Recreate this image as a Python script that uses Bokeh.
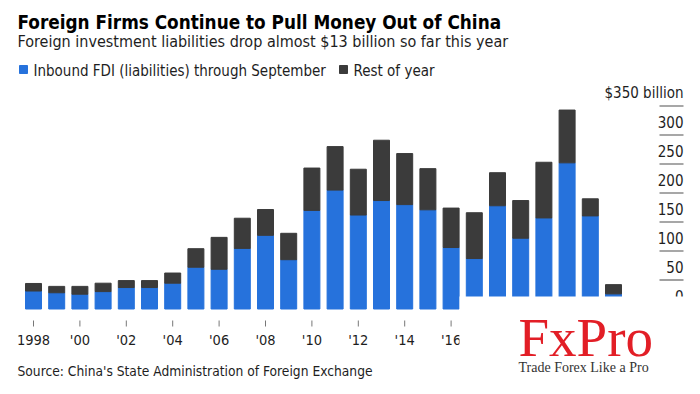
from bokeh.plotting import figure
from bokeh.models import ColumnDataSource, Range1d
from bokeh.core.properties import value
from bokeh.embed import file_html
from bokeh.resources import INLINE

# ---------------- data ----------------
years = list(range(1998, 2024))
through_sept = [31, 28, 25.5, 30, 37, 37, 44.5, 72, 68.5, 104.5, 127, 85, 170,
                205, 162, 187, 180, 171, 106, 87, 178, 122, 157, 252, 160.5, 26]
rest_of_year = [13, 11, 13.5, 14.5, 12, 12, 17.5, 32, 55, 52, 44.5, 45.5, 73,
                75, 79, 104, 88, 71, 68, 79, 57, 65, 96, 91, 29.5, 16]
x_tick_years = [1998, 2000, 2002, 2004, 2006, 2008, 2010, 2012, 2014, 2016, 2018, 2020, 2022]
x_tick_labels = ["1998", "'00", "'02", "'04", "'06", "'08", "'10", "'12", "'14", "'16", "'18", "'20", "'22"]
y_ticks = [0, 50, 100, 150, 200, 250, 300, 350]
y_tick_labels = ["0", "50", "100", "150", "200", "250", "300", "$350 billion"]

title = "Foreign Firms Continue to Pull Money Out of China"
subtitle = "Foreign investment liabilities drop almost $13 billion so far this year"
legend_labels = ["Inbound FDI (liabilities) through September", "Rest of year"]
source_text = "Source: China's State Administration of Foreign Exchange"

BLUE = "#2672dc"
GRAY = "#3b3b3b"
TEXT = "#1e1e1e"
FONT = "DejaVu Sans Condensed"

# ---------------- page geometry (page pixels) ----------------
W, H = 700, 394
X0_PAGE, PX_PER_YEAR = 33.0, 23.2
Y0_PAGE, PX_PER_BN = 308.5, 0.58
BASE_SHIFT = 0.3  # em: rendered baseline sits this far below the anchor


def dx(px):
    return 1998 + (px - X0_PAGE) / PX_PER_YEAR


def dy(py):
    return (Y0_PAGE - py) / PX_PER_BN


def ty(baseline, fs):
    return dy(baseline - BASE_SHIFT * fs)


p = figure(width=W, height=H,
           x_range=Range1d(dx(0), dx(W)),
           y_range=Range1d(dy(H), dy(0)),
           output_backend="svg", toolbar_location=None,
           x_axis_location=None, y_axis_location=None,
           min_border=0, outline_line_color=None,
           background_fill_color="white", border_fill_color="white")
p.grid.visible = False

src = ColumnDataSource(dict(year=years, sept=through_sept, rest=rest_of_year))
p.vbar_stack(["sept", "rest"], x="year", width=16 / PX_PER_YEAR, color=[BLUE, GRAY], source=src)

# right-hand value scale: short rules with labels sitting above them
g_x0, g_x1 = dx(659), dx(683)
p.segment(x0=[g_x0] * len(y_ticks), x1=[g_x1] * len(y_ticks), y0=y_ticks, y1=y_ticks,
          line_color="#8a8a8a", line_width=1.6)
fs_y = 15
p.text(x=[g_x1] * len(y_ticks), y=y_ticks, text=y_tick_labels, text_align="right",
       text_baseline="alphabetic", y_offset=-(8.5 + BASE_SHIFT * fs_y), text_font=value(FONT),
       text_font_size=f"{fs_y}px", text_color=TEXT)

# x ticks and labels
tick_top, tick_bot = dy(320), dy(326)
p.segment(x0=x_tick_years, x1=x_tick_years, y0=[tick_top] * len(x_tick_years),
          y1=[tick_bot] * len(x_tick_years), line_color="#777777", line_width=1)
fs_x = 14.5
p.text(x=x_tick_years, y=[ty(344.3, fs_x)] * len(x_tick_years), text=x_tick_labels,
       text_align="center", text_baseline="alphabetic", text_font=value(FONT),
       text_font_size=f"{fs_x}px", text_color=TEXT)

# white logo panel covering lower right
p.quad(left=[dx(459)], right=[dx(W + 5)], bottom=[dy(H + 5)], top=[dy(296)],
       fill_color="white", line_color=None)

# logo
p.text(x=[dx(518)], y=[ty(353, 55)], text=["FxPro"], text_font=value("Liberation Serif"),
       text_font_size="55px", text_color="#e21e26", text_baseline="alphabetic")
p.text(x=[dx(518)], y=[ty(370.7, 14)], text=["Trade Forex Like a Pro"], text_font=value("Liberation Serif"),
       text_font_size="14px", text_color="#333333", text_baseline="alphabetic")

# titles
p.text(x=[dx(17)], y=[ty(27.3, 18.8)], text=[title], text_font=value(FONT), text_font_style="bold",
       text_font_size="18.8px", text_color="#000000", text_baseline="alphabetic")
p.text(x=[dx(17)], y=[ty(46, 16)], text=[subtitle], text_font=value(FONT),
       text_font_size="16px", text_color=TEXT, text_baseline="alphabetic")

# legend
sq = 8
p.quad(left=[dx(19), dx(339)], right=[dx(19 + sq), dx(339 + sq)],
       top=[dy(65), dy(65)], bottom=[dy(65 + sq), dy(65 + sq)], color=[BLUE, GRAY])
p.text(x=[dx(33), dx(353)], y=[ty(75, 15)] * 2, text=legend_labels, text_font=value(FONT),
       text_font_size="15px", text_color=TEXT, text_baseline="alphabetic")

# source
p.text(x=[dx(17)], y=[ty(374.5, 13.7)], text=[source_text], text_font=value(FONT),
       text_font_size="13.7px", text_color=TEXT, text_baseline="alphabetic")

open("out.html", "w").write(file_html(p, INLINE))
